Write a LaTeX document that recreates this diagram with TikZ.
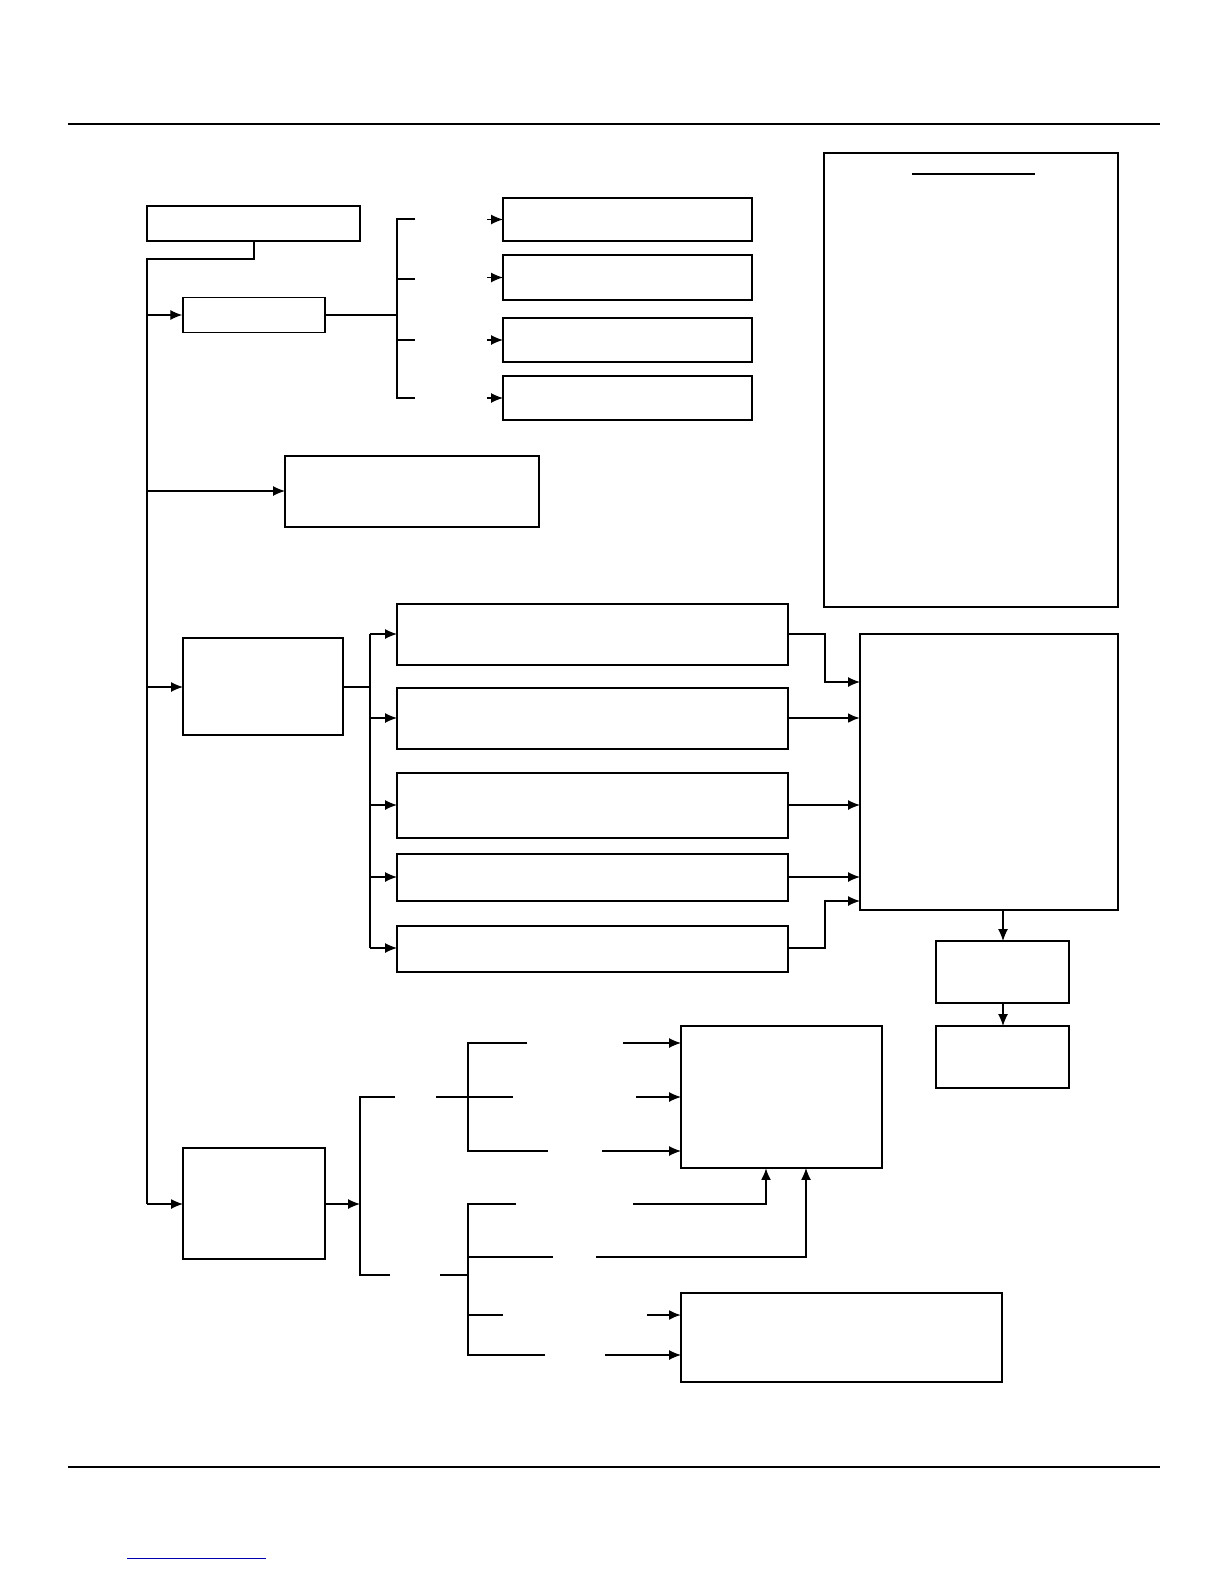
\documentclass[tikz,border=0pt]{standalone}
\usetikzlibrary{arrows.meta}
\begin{document}
\begin{tikzpicture}[x=0.5bp,y=-0.5bp,line width=0.6pt,
 bx/.style={draw,line width=0.7pt},
 ar/.style={-{Latex[length=6pt,width=5pt]}}]
\useasboundingbox (0,0) rectangle (1224,1584);
\draw (68,124)--(1160,124); \draw (68,1467)--(1160,1467);
\draw[blue!70!black,line width=0.5pt] (127,1558)--(266,1558);
% legend
\draw[line width=1.4pt] (824,153) rectangle (1118,607);
\draw (912,174)--(1035,174);
% top
\draw[bx] (147,206) rectangle (360,241);
\coordinate (t) at (254,241);
\draw (t)--(254,259)--(147,259)--(147,1204);
\node[bx,minimum width=71bp,minimum height=17.5bp,inner sep=0] (b1) at (254,315) {};
\draw[ar] (147,315)--(b1.west);
\draw (b1.east)--(397,315);
\draw (415,219)--(397,219)--(397,398)--(415,398);
\draw (397,279)--(415,279); \draw (397,340)--(415,340);
\foreach \a/\b [count=\i] in {198/241,255/300,318/362,376/420}{
 \draw[bx] (503,\a) rectangle (752,\b);
 \draw[ar] (487,{(\a+\b)/2})--(503,{(\a+\b)/2});}
\draw[bx] (285,456) rectangle (539,527);
\draw[ar] (147,491)--(285,491);
% middle
\draw[bx] (183,638) rectangle (343,735);
\draw[ar] (147,687)--(183,687);
\draw (343,687)--(370,687); \draw (370,634)--(370,948);
\foreach \a/\b in {604/665,688/749,773/838,854/901,926/972}
 \draw[bx] (397,\a) rectangle (788,\b);
\foreach \y in {634,718,805,877,948} \draw[ar] (370,\y)--(397,\y);
\draw[bx] (860,634) rectangle (1118,910);
\draw[ar] (788,634)--(825,634)--(825,682)--(860,682);
\draw[ar,line width=1.2pt] (788,718)--(860,718);
\draw[ar] (788,805)--(860,805);
\draw[ar] (788,877)--(860,877);
\draw[ar] (788,948)--(825,948)--(825,901)--(860,901);
\draw[bx] (936,941) rectangle (1069,1003);
\draw[bx] (936,1026) rectangle (1069,1088);
\draw[ar] (1003,910)--(1003,941); \draw[ar] (1003,1003)--(1003,1026);
% bottom
\draw[bx] (183,1148) rectangle (325,1259);
\draw[ar] (147,1204)--(183,1204);
\draw[ar] (325,1204)--(360,1204);
\draw (395,1097)--(360,1097)--(360,1275)--(390,1275);
\draw (436,1097)--(513,1097);
\draw (527,1043)--(468,1043)--(468,1151)--(548,1151);
\draw[bx] (681,1026) rectangle (882,1168);
\draw[ar] (623,1043)--(681,1043);
\draw[ar] (636,1097)--(681,1097);
\draw[ar] (602,1151)--(681,1151);
\draw (440,1275)--(468,1275);
\draw (516,1204)--(468,1204)--(468,1355)--(545,1355);
\draw (468,1257)--(553,1257);
\draw[line width=1.2pt] (468,1315)--(503,1315);
\draw[ar,line width=1pt] (633,1204)--(766,1204)--(766,1168);
\draw[ar] (596,1257)--(806,1257)--(806,1168);
\draw[bx] (681,1293) rectangle (1002,1382);
\draw[ar,line width=1pt] (647,1315)--(681,1315);
\draw[ar] (605,1355)--(681,1355);
\end{tikzpicture}
\end{document}
